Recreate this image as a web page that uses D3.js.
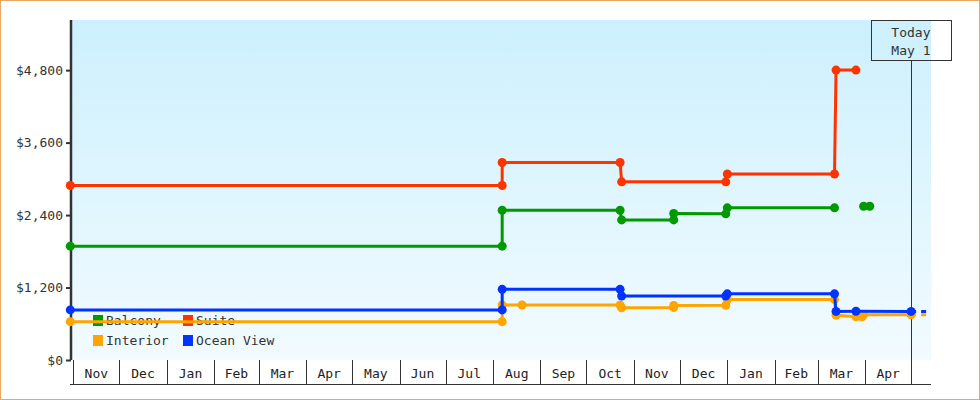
<!DOCTYPE html>
<html>
<head>
<meta charset="utf-8">
<script src="https://cdn.jsdelivr.net/npm/d3@7"></script>
<style>
body { margin: 0; background: #fff; }
svg { display: block; font-family: "DejaVu Sans Mono", monospace; font-size: 13px; }
</style>
</head>
<body>
<div id="chart"></div>
<script>
// Series, in legend order
const seriesNames = ["Balcony", "Suite", "Interior", "Ocean View"];
const seriesColors = ["#009900", "#ff3300", "#ffa500", "#0033ff"];

const balconyDates  = ["2023-10-30", "2024-08-07", "2024-08-07", "2024-10-23", "2024-10-24", "2024-11-27", "2024-11-27", "2024-12-31", "2025-01-01", "2025-03-12", "2025-03-20", "2025-03-31", "2025-04-04"];
const balconyValues = [1885, 1885, 2480, 2480, 2320, 2320, 2425, 2420, 2520, 2520, null, 2545, 2545];

const suiteDates  = ["2023-10-30", "2024-08-07", "2024-08-07", "2024-10-23", "2024-10-24", "2024-12-31", "2025-01-01", "2025-03-12", "2025-03-13", "2025-03-26"];
const suiteValues = [2890, 2890, 3270, 3270, 2950, 2950, 3080, 3080, 4800, 4800];

const interiorDates  = ["2023-10-30", "2024-08-07", "2024-08-07", "2024-08-20", "2024-10-23", "2024-10-24", "2024-11-27", "2024-11-27", "2024-12-31", "2025-01-01", "2025-03-12", "2025-03-13", "2025-03-26", "2025-03-30", "2025-03-31", "2025-05-01"];
const interiorValues = [635, 635, 910, 910, 910, 865, 868, 903, 905, 1000, 1000, 740, 715, 715, 750, 750];

const oceanDates  = ["2023-10-30", "2024-08-07", "2024-08-07", "2024-10-23", "2024-10-24", "2024-12-31", "2025-01-01", "2025-03-12", "2025-03-13", "2025-03-26", "2025-05-01"];
const oceanValues = [830, 830, 1170, 1170, 1060, 1060, 1095, 1095, 805, 808, 805];

const yTicks = [0, 1200, 2400, 3600, 4800];
const xExtent = ["2023-10-30", "2025-05-14"];
const yExtent = [0, 5630];
const todayDate = "2025-05-01";
const todayLabel = ["Today", "May 1"];

function drawChart()
{
    const width = 980, height = 400;
    const plot = { left: 70.3, right: 931, top: 20, bottom: 360 };
    const parse = d3.timeParse("%Y-%m-%d");

    const svg = d3.select("#chart")
        .append("svg")
        .attr("width", width)
        .attr("height", height);

    // outer frame
    svg.append("rect")
        .attr("x", 0.5).attr("y", 0.5)
        .attr("width", width - 1).attr("height", height - 1)
        .attr("fill", "none")
        .attr("stroke", "#eaa863");

    // Background gradient
    const grad = svg.append("defs").append("linearGradient")
        .attr("id", "bg").attr("x1", 0).attr("y1", 0).attr("x2", 0).attr("y2", 1);
    grad.append("stop").attr("offset", "0%").attr("stop-color", "#ccf0fd");
    grad.append("stop").attr("offset", "100%").attr("stop-color", "#f2fbff");

    svg.select("defs").append("clipPath").attr("id", "plotClip")
        .append("rect")
        .attr("x", plot.left).attr("y", plot.top)
        .attr("width", plot.right - plot.left).attr("height", plot.bottom - plot.top);

    svg.append("rect")
        .attr("x", 71).attr("y", plot.top)
        .attr("width", plot.right - 71).attr("height", plot.bottom - plot.top)
        .attr("fill", "url(#bg)");

    // Scales
    const x = d3.scaleTime()
        .domain(xExtent.map(parse))
        .range([plot.left, plot.right]);

    const y = d3.scaleLinear()
        .domain(yExtent)
        .range([plot.bottom, plot.top]);

    // Month band below the plot
    const months = d3.timeMonth.range(d3.timeMonth.ceil(x.domain()[0]), x.domain()[1]);
    const band = svg.append("g").attr("stroke", "#333").attr("stroke-width", 1);
    months.forEach(m => {
        band.append("line")
            .attr("x1", Math.round(x(m)) + 0.5).attr("x2", Math.round(x(m)) + 0.5)
            .attr("y1", plot.bottom).attr("y2", 384);
    });
    band.append("line")
        .attr("x1", 70).attr("x2", plot.right)
        .attr("y1", 384.5).attr("y2", 384.5);

    const monthFmt = d3.timeFormat("%b");
    months.forEach(m => {
        const next = d3.timeMonth.offset(m, 1);
        if (next > x.domain()[1]) return;
        svg.append("text")
            .attr("x", (x(m) + x(next)) / 2)
            .attr("y", 378)
            .attr("text-anchor", "middle")
            .attr("fill", "#222")
            .text(monthFmt(m));
    });

    // Y axis
    const yAxis = svg.append("g")
        .attr("transform", "translate(71,0)")
        .call(d3.axisLeft(y).tickValues(yTicks).tickSize(5).tickPadding(3).tickFormat(d3.format("$,")));
    yAxis.select(".domain")
        .attr("d", "M0," + plot.top + "V" + plot.bottom)
        .attr("stroke", "#333")
        .attr("stroke-width", 2.5);
    yAxis.selectAll(".tick line").attr("stroke", "#333").attr("stroke-width", 2);
    yAxis.selectAll(".tick text")
        .attr("fill", "#333")
        .style("font-family", "'DejaVu Sans Mono', monospace")
        .style("font-size", "13px");

    // Legend (drawn under the lines)
    const legend = svg.append("g");
    seriesNames.forEach((name, i) => {
        const col = i % 2, row = Math.floor(i / 2);
        const lx = 93 + col * 90, ly = 315 + row * 20;
        legend.append("rect")
            .attr("x", lx).attr("y", ly)
            .attr("width", 10).attr("height", 11)
            .attr("fill", seriesColors[i]);
        legend.append("text")
            .attr("x", lx + 13).attr("y", ly + 10)
            .attr("fill", "#333")
            .text(name);
    });

    // Today marker
    const today = parse(todayDate);
    const tx = Math.round(x(today)) + 0.5;
    svg.append("line")
        .attr("x1", tx).attr("x2", tx)
        .attr("y1", 61).attr("y2", plot.bottom)
        .attr("stroke", "#333").attr("stroke-width", 1);
    svg.append("rect")
        .attr("x", tx - 40).attr("y", 20.5)
        .attr("width", 80).attr("height", 40)
        .attr("fill", "none")
        .attr("stroke", "#333");
    todayLabel.forEach((t, i) => {
        svg.append("text")
            .attr("x", tx + 19).attr("y", 36.5 + i * 18.5)
            .attr("text-anchor", "end")
            .attr("fill", "#333")
            .text(t);
    });

    // Series lines
    const allDates = [balconyDates, suiteDates, interiorDates, oceanDates];
    const allValues = [balconyValues, suiteValues, interiorValues, oceanValues];

    const line = d3.line()
        .defined(d => d.v != null)
        .x(d => x(d.t))
        .y(d => y(d.v));

    seriesNames.forEach((name, i) => {
        const data = allDates[i].map((t, j) => ({ t: parse(t), v: allValues[i][j] }));
        const color = seriesColors[i];

        svg.append("path")
            .datum(data)
            .attr("fill", "none")
            .attr("stroke", color)
            .attr("stroke-width", 3)
            .attr("d", line);

        // projection past today
        const last = data[data.length - 1];
        if (+last.t === +today)
        {
            svg.append("path")
                .datum([last, { t: x.domain()[1], v: last.v }])
                .attr("clip-path", "url(#plotClip)")
                .attr("fill", "none")
                .attr("stroke", color)
                .attr("stroke-width", 3)
                .attr("stroke-dasharray", "5,5")
                .attr("d", line);
        }

        svg.append("g")
            .selectAll("circle")
            .data(data.filter(d => d.v != null))
            .join("circle")
            .attr("cx", d => x(d.t))
            .attr("cy", d => y(d.v))
            .attr("r", 4.5)
            .attr("fill", color);
    });
}

drawChart();
</script>
</body>
</html>
